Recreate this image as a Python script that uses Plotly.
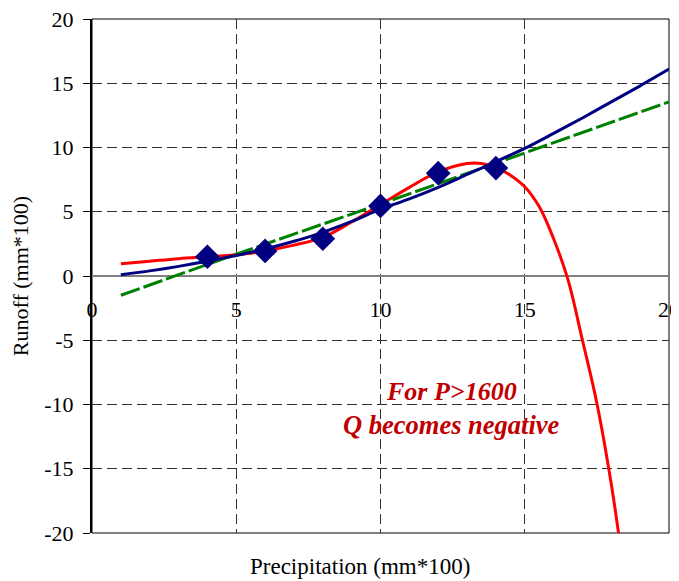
import plotly.graph_objects as go

# Observed data points
obs_x = [4, 6, 8, 10, 12, 14]
obs_y = [1.5, 1.95, 2.9, 5.45, 8.0, 8.4]

# Blue fitted curve
blue_x = [1, 2, 3, 4, 5, 6, 7, 8, 9, 10, 11, 12, 13, 14, 15, 16, 17, 18, 19, 20]
blue_y = [0.1, 0.4, 0.75, 1.15, 1.6, 2.1, 2.7, 3.4, 4.25, 5.2, 6.0, 6.9, 7.9, 8.9, 9.93, 11.1, 12.3, 13.55, 14.8, 16.1]

# Green linear fit (dashed)
green_x = [1, 5, 10, 15, 20]
green_y = [-1.5, 1.7, 5.6, 9.6, 13.55]

# Red polynomial fit
red_x = [1, 2, 3, 4, 5, 6, 7, 8, 9, 10, 11, 12, 13, 13.5, 14, 14.5, 15, 15.5, 16, 16.5, 17, 17.5, 18, 18.3]
red_y = [0.95, 1.15, 1.35, 1.5, 1.65, 1.95, 2.4, 3.0, 4.2, 5.55, 6.9, 8.1, 8.75, 8.75, 8.45, 7.85, 6.95, 5.4, 2.9, -0.3, -5.0, -9.9, -16.2, -20.8]

x_ticks = [0, 5, 10, 15, 20]
x_labels = ["0", "5", "10", "15", "20"]
y_ticks = [-20, -15, -10, -5, 0, 5, 10, 15, 20]
y_labels = ["-20", "-15", "-10", "-5", "0", "5", "10", "15", "20"]

FONT = "Liberation Serif, Times New Roman, serif"

fig = go.Figure()
fig.add_trace(go.Scatter(x=red_x, y=red_y, mode="lines", line=dict(color="#FF0000", width=3, shape="spline", smoothing=1.0), showlegend=False))
fig.add_trace(go.Scatter(x=green_x, y=green_y, mode="lines", line=dict(color="#008000", width=3, dash="20px,4px"), showlegend=False))
fig.add_trace(go.Scatter(x=blue_x, y=blue_y, mode="lines", line=dict(color="#000080", width=3, shape="spline", smoothing=0.8), showlegend=False))
fig.add_trace(go.Scatter(x=obs_x, y=obs_y, mode="markers", marker=dict(symbol="diamond", color="#000080", size=19), showlegend=False))

fig.update_layout(
    width=671, height=573,
    margin=dict(l=84, r=10, t=11, b=48),
    paper_bgcolor="white", plot_bgcolor="white",
    font=dict(family=FONT, size=22, color="black"),
    xaxis=dict(
        range=[0, 20], tickvals=x_ticks, ticktext=x_labels, ticks="", showline=False,
        anchor="free", position=0.5, ticklabelstandoff=18, automargin=False,
        ticklabeloverflow="allow",
        showgrid=True, gridcolor="#303030", griddash="10px,5px", gridwidth=1,
        zeroline=False, tickfont=dict(size=22, family=FONT),
    ),
    yaxis=dict(
        range=[-20, 20], tickvals=y_ticks, ticktext=y_labels, ticks="outside", ticklen=7, tickcolor="black",
        showline=True, linecolor="black", linewidth=2, automargin=False,
        ticklabelstandoff=5, ticklabeloverflow="allow",
        showgrid=True, gridcolor="#303030", griddash="10px,5px", gridwidth=1,
        zeroline=True, zerolinecolor="#808080", zerolinewidth=2,
        tickfont=dict(size=22, family=FONT),
        title=dict(text="Runoff (mm*100)", font=dict(size=22, family=FONT), standoff=12),
    ),
    shapes=[dict(type="rect", xref="paper", yref="paper", x0=0, x1=1, y0=0, y1=1,
                 line=dict(color="black", width=1), layer="below")],
    annotations=[
        dict(text="Precipitation (mm*100)", xref="paper", yref="paper", x=0.464, y=0,
             yshift=-33, showarrow=False, yanchor="middle", font=dict(size=23, family=FONT)),
        dict(text="<b><i>For P>1600</i></b>", x=12.47, y=-9.0, showarrow=False,
             font=dict(size=26, family=FONT, color="#C00000")),
        dict(text="<b><i>Q becomes negative</i></b>", x=12.47, y=-11.6, showarrow=False,
             font=dict(size=26.5, family=FONT, color="#C00000")),
    ],
)

fig.write_html("out.html")
